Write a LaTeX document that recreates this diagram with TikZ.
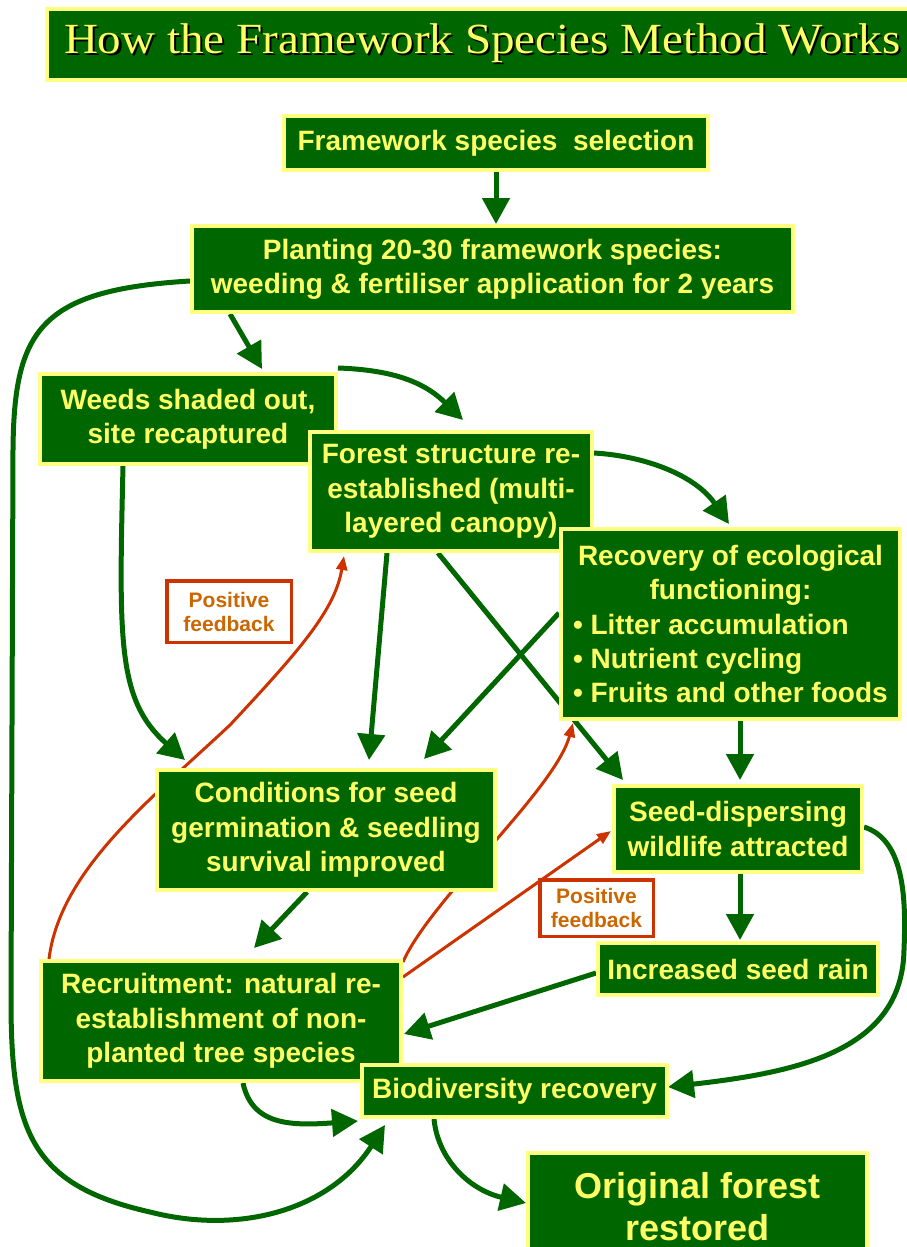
\documentclass[tikz,border=0pt]{standalone}
\usepackage{fontspec}
\setmainfont{Liberation Serif}
\setsansfont{Liberation Sans}
\usetikzlibrary{arrows.meta,calc,backgrounds}
\definecolor{boxgreen}{RGB}{0,102,0}
\definecolor{boxyellow}{RGB}{255,255,128}
\definecolor{txtyellow}{RGB}{255,255,102}
\definecolor{fbred}{RGB}{204,51,0}
\definecolor{fborange}{RGB}{204,102,0}
\newcommand\shadowtext[1]{\rlap{\hspace{2pt}\raisebox{-2pt}{\textcolor{black}{#1}}}#1}
\tikzset{
  box/.style={draw=boxyellow, fill=boxgreen, line width=4pt, inner sep=0pt, outer sep=2pt,
    text=txtyellow, align=center, font=\sffamily\bfseries\fontsize{28}{34.3}\selectfont},
  fbbox/.style={draw=fbred, fill=white, line width=3.5pt, inner sep=0pt, outer sep=1.75pt,
    text=fborange, align=center, font=\sffamily\bfseries\fontsize{21}{24}\selectfont},
  garrow/.style={draw=boxgreen, line width=5pt, -{Triangle[length=26pt,width=27pt]}},
  rarrow/.style={draw=fbred, line width=3pt, -{Triangle[length=14pt,width=11pt]}}
}
\begin{document}
\begin{tikzpicture}[x=1pt,y=-1pt]
\useasboundingbox (0,0) rectangle (907,1247);
% title
\node[box, minimum width=911pt, minimum height=71pt,
  font=\rmfamily\mdseries\fontsize{43}{48}\selectfont] (title) at (502.5,44.5)
  {\makebox[907pt][l]{\hspace{15pt}\raisebox{-2pt}{\scalebox{1.094}[1]{\shadowtext{How the Framework Species Method Works}}}}};
% boxes
\node[box, minimum width=424pt, minimum height=54pt] (sel) at (496,143) {Framework species~~selection};
\node[box, minimum width=601pt, minimum height=86pt] (plant) at (492.5,269) {Planting 20-30 framework species:\\weeding \& fertiliser application for 2 years};
\node[box, minimum width=296pt, minimum height=90pt] (weeds) at (188,419) {Weeds shaded out,\\site recaptured};
\node[box, minimum width=282pt, minimum height=119pt] (forest) at (451,491.5) {Forest structure re-\\established (multi-\\layered canopy)};
\node[box, minimum width=339pt, minimum height=190pt] (recov) at (730.5,624) {Recovery of ecological\\functioning:\\\makebox[315pt][l]{• Litter accumulation}\\\makebox[315pt][l]{• Nutrient cycling}\\\makebox[315pt][l]{• Fruits and other foods}};
\node[box, minimum width=338pt, minimum height=120pt] (cond) at (326,830) {Conditions for seed\\germination \& seedling\\survival improved};
\node[box, minimum width=248pt, minimum height=86pt] (seed) at (738,829) {Seed-dispersing\\wildlife attracted};
\node[box, minimum width=280pt, minimum height=52pt] (rain) at (738,969) {Increased seed rain};
\node[box, minimum width=360pt, minimum height=120pt] (recruit) at (221,1021) {Recruitment: natural re-\\establishment of non-\\planted tree species};
\node[box, minimum width=305pt, minimum height=52pt] (bio) at (514.5,1091) {Biodiversity recovery};
\node[box, minimum width=339pt, minimum height=108pt, font=\sffamily\bfseries\fontsize{36}{42}\selectfont] (orig) at (697.5,1207) {Original forest\\restored};
\node[fbbox, minimum width=124.5pt, minimum height=61.5pt] (pf1) at (229,611.5) {Positive\\feedback};
\node[fbbox, minimum width=113.5pt, minimum height=56.5pt] (pf2) at (596.5,908) {Positive\\feedback};
% connectors
\begin{scope}[on background layer]
\draw[garrow] (sel.south) -- (sel.south |- plant.north);
\draw[garrow] ($(plant.south west)+(40,0)$) -- ($(weeds.north west)+(224,-3)$);
\draw[garrow] ($(weeds.north east)+(0,-4)$) .. controls (395,370) and (425,383) .. ($(forest.north west)+(155,-10)$);
\draw[garrow] ($(forest.north east)+(0,23)$) .. controls (645,456) and (695,475) .. ($(recov.north west)+(170,-3)$);
\draw[garrow] ($(weeds.south west)+(85,0)$) .. controls (119,640) and (117,700) .. ($(cond.north west)+(30,-8)$);
\draw[garrow] ($(forest.south west)+(79,0)$) -- ($(cond.north west)+(214,-8)$);
\draw[garrow] ($(recov.west)+(0,-11)$) -- ($(cond.north west)+(269,-9)$);
\draw[garrow] ($(forest.south west)+(130,0)$) -- ($(seed.north west)+(11,-4)$);
\draw[garrow] ($(recov.south)+(9.5,0)$) -- ($(seed.north)+(2,-4)$);
\draw[garrow] ($(seed.south)+(2,0)$) -- ($(rain.north)+(2,-1)$);
\draw[garrow] ($(seed.east)+(0,-2)$) .. controls (905,840) and (906,900) .. (904,950)
  .. controls (902,1050) and (800,1072) .. ($(bio.east)+(-1,-4)$);
\draw[garrow] ($(rain.west)+(0,4)$) -- ($(recruit.east)+(1,13)$);
\draw[garrow] ($(cond.south west)+(152,0)$) -- ($(recruit.north west)+(215,-11)$);
\draw[garrow] ($(recruit.south west)+(204,0)$) .. controls (252,1125) and (290,1126) .. ($(bio.south west)+(-2,2)$);
\draw[garrow] ($(plant.west)+(0,12)$) .. controls (40,290) and (14,330) .. (13,450) -- (11,1000)
  .. controls (11,1130) and (30,1185) .. (150,1212) .. controls (240,1235) and (330,1210) .. ($(bio.south west)+(25,6)$);
\draw[garrow] ($(bio.south west)+(74,0)$) .. controls (438,1160) and (470,1190) .. ($(orig.west)+(0,-4)$);
\draw[rarrow] ($(recruit.north west)+(10,0)$) .. controls (60,870) and (150,800) .. (230,725)
  .. controls (300,650) and (335,610) .. ($(forest.south west)+(36,3)$);
\draw[rarrow] ($(recruit.north east)+(0,3)$) .. controls (430,900) and (555,790) .. ($(recov.south west)+(14,2)$);
\draw[rarrow] ($(recruit.north east)+(0,18)$) -- ($(seed.west)+(-1,2)$);
\end{scope}
\end{tikzpicture}
\end{document}
